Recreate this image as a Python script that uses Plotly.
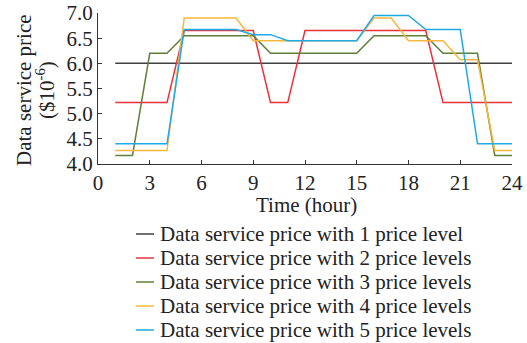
import plotly.graph_objects as go

hours = list(range(1, 25))
price_1 = [6.0] * 24
price_2 = [5.22, 5.22, 5.22, 5.22, 6.65, 6.65, 6.65, 6.65, 6.65, 5.22, 5.22, 6.65,
           6.65, 6.65, 6.65, 6.65, 6.65, 6.65, 6.65, 5.22, 5.22, 5.22, 5.22, 5.22]
price_3 = [4.17, 4.17, 6.2, 6.2, 6.55, 6.55, 6.55, 6.55, 6.55, 6.2, 6.2, 6.2,
           6.2, 6.2, 6.2, 6.55, 6.55, 6.55, 6.55, 6.2, 6.2, 6.2, 4.17, 4.17]
price_4 = [4.27, 4.27, 4.27, 4.27, 6.9, 6.9, 6.9, 6.9, 6.45, 6.45, 6.45, 6.45,
           6.45, 6.45, 6.45, 6.9, 6.9, 6.45, 6.45, 6.45, 6.07, 6.07, 4.27, 4.27]
price_5 = [4.4, 4.4, 4.4, 4.4, 6.67, 6.67, 6.67, 6.67, 6.57, 6.57, 6.45, 6.45,
           6.45, 6.45, 6.45, 6.95, 6.95, 6.95, 6.67, 6.67, 6.67, 4.4, 4.4, 4.4]

names = ["Data service price with 1 price level",
         "Data service price with 2 price levels",
         "Data service price with 3 price levels",
         "Data service price with 4 price levels",
         "Data service price with 5 price levels"]
colors = ["#404040", "#e8303a", "#5f7f3a", "#f7b73c", "#1fa9e6"]
series = [price_1, price_2, price_3, price_4, price_5]

x_ticks = [0, 3, 6, 9, 12, 15, 18, 21, 24]
y_ticks = [4.0, 4.5, 5.0, 5.5, 6.0, 6.5, 7.0]
x_title = "Time (hour)"
y_title_lines = ["Data service price", "($10<sup>-6</sup>)"]

W, H = 527, 343
L, R, T, B = 98, 15, 13, 179
PW, PH = W - L - R, H - T - B


def px_x(p):
    return (p - L) / PW


def px_y(p):
    return (H - B - p) / PH


fig = go.Figure()
for n, c, s in zip(names, colors, series):
    fig.add_trace(go.Scatter(x=hours, y=s, mode="lines", name=n,
                             line=dict(color=c, width=1.5), showlegend=False))

txt = "#222222"
font = dict(family="Liberation Serif", size=21, color=txt)

# manual legend
leg_y0, leg_dy = 234, 24
for i, (n, c) in enumerate(zip(names, colors)):
    yy = px_y(leg_y0 + i * leg_dy)
    fig.add_shape(type="line", xref="paper", yref="paper",
                  x0=px_x(136), x1=px_x(154), y0=yy, y1=yy,
                  line=dict(color=c, width=1.5))
    fig.add_annotation(text=n, xref="paper", yref="paper", x=px_x(158), y=yy,
                       xanchor="left", yanchor="middle", showarrow=False, font=font)

fig.add_annotation(text=x_title, xref="paper", yref="paper",
                   x=px_x(306), y=px_y(205), xanchor="center", yanchor="middle",
                   showarrow=False, font=font)
for cx, line in zip([24, 46], y_title_lines):
    fig.add_annotation(text=line, xref="paper", yref="paper", x=px_x(cx), y=px_y(90),
                       xanchor="center", yanchor="middle", textangle=-90,
                       showarrow=False, font=font)

fig.update_layout(
    width=W, height=H,
    margin=dict(l=L, r=R, t=T, b=B),
    paper_bgcolor="white", plot_bgcolor="white",
    font=font,
    showlegend=False,
    xaxis=dict(range=[0, 24], tickvals=x_ticks, ticktext=[str(v) for v in x_ticks],
               ticks="inside", ticklen=4, tickcolor="#333", showline=True,
               linecolor="#333", linewidth=1, showgrid=False, zeroline=False,
               tickfont=font, automargin=False),
    yaxis=dict(range=[4.0, 7.0], tickvals=y_ticks, ticktext=[f"{v:.1f}" for v in y_ticks],
               ticks="inside", ticklen=4, tickcolor="#333", showline=True,
               linecolor="#333", linewidth=1, showgrid=False, zeroline=False,
               tickfont=font, automargin=False, ticklabeloverflow="allow"),
)
fig.write_html("out.html", config={"displayModeBar": False},
               post_script="document.body.style.margin='0';document.body.style.overflow='hidden';")
